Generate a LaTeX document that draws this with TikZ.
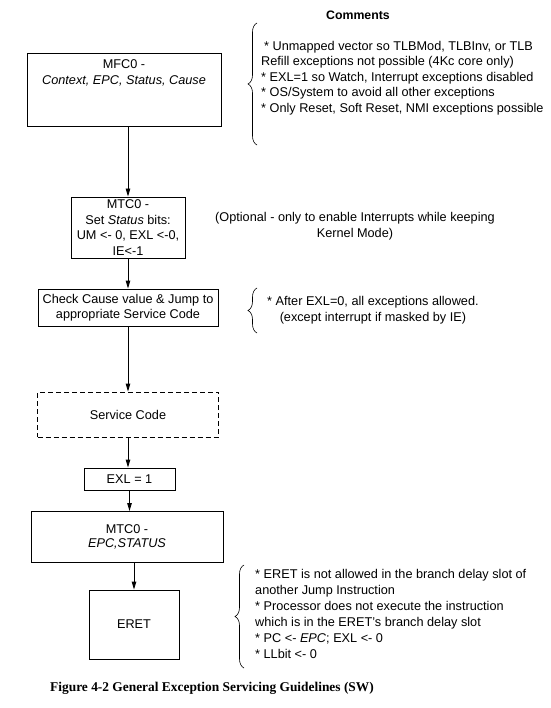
\documentclass[tikz,border=0pt]{standalone}
\usepackage{fontspec}
\setmainfont{Liberation Sans}
\newfontfamily\capfont{Liberation Serif}
\usetikzlibrary{arrows.meta,decorations.pathreplacing}
\begin{document}
\begin{tikzpicture}[x=1pt,y=-1pt,
  box/.style={draw, line width=0.9pt, inner sep=0pt},
  txt/.style={inner sep=0pt, font=\fontsize{12.7}{15.5}\selectfont, align=center},
  arr/.style={-{Triangle[length=8pt,width=4.5pt]}, line width=0.9pt},
  brc/.style={decorate, decoration={brace, amplitude=9pt}, line width=0.6pt}]
\useasboundingbox (0,0) rectangle (550,708);

% boxes
\node[box, minimum width=194pt, minimum height=73pt] (b1) at (124,89.5) {};
\node[txt, font=\fontsize{12.7}{16.5}\selectfont] (t1) at (124,73) {MFC0 -\\\textit{Context, EPC, Status, Cause}};
\node[box, txt, minimum width=114pt, minimum height=61pt] (b2) at (128,227.5)
  {MTC0 -\\Set \textit{Status} bits:\\UM <- 0, EXL <-0,\\IE<-1};
\node[box, txt, minimum width=180pt, minimum height=37pt] (b3) at (128,307.5)
  {Check Cause value \& Jump to\\appropriate Service Code};
\node[box, txt, dash pattern=on 5pt off 3pt, minimum width=181pt, minimum height=45pt] (b4) at (128,414.5)
  {Service Code};
\node[box, txt, minimum width=91pt, minimum height=22pt] (b5) at (129.5,479) {EXL = 1};
\node[box, txt, font=\fontsize{12.7}{13.5}\selectfont, minimum width=192pt, minimum height=51pt] (b6) at (127,537)
  {MTC0 -\\\textit{EPC,STATUS}};
\node[box, txt, minimum width=90pt, minimum height=69pt] (b7) at (134,624.5) {ERET};

% arrows
\draw[arr] (b1.south -| b2.north) -- (b2.north);
\draw[arr] (b2.south) -- (b2.south |- b3.north);
\draw[arr] (b3.south) -- (b3.south |- b4.north);
\draw[arr] (b4.south) -- (b4.south |- b5.north);
\draw[arr] (b5.south) -- (b5.south |- b6.north);
\draw[arr] (b7.north |- b6.south) -- (b7.north);

% comments
\node[font=\bfseries\fontsize{12.3}{14}\selectfont, inner sep=0pt] (ct) at (358,15) {Comments};
\draw[brc] (257,145) -- (257,23);
\node[txt, align=left, anchor=west] (c1) at (261,78)
  {\hspace{3pt}* Unmapped vector so TLBMod, TLBInv, or TLB\\
   Refill exceptions not possible (4Kc core only)\\
   * EXL=1 so Watch, Interrupt exceptions disabled\\
   * OS/System to avoid all other exceptions\\
   * Only Reset, Soft Reset, NMI exceptions possible};

\node[txt] (opt) at (355,226)
  {(Optional - only to enable Interrupts while keeping\\Kernel Mode)};

\draw[brc] (257,333) -- (257,288);
\node[txt, anchor=west] (c2) at (267,310)
  {* After EXL=0, all exceptions allowed.\\(except interrupt if masked by IE)};

\draw[brc] (244,668) -- (244,565);
\node[txt, align=left, anchor=west, font=\fontsize{12.7}{16}\selectfont] (c3) at (255,614)
  {* ERET is not allowed in the branch delay slot of\\
   another Jump Instruction\\
   * Processor does not execute the instruction\\
   which is in the ERET's branch delay slot\\
   * PC <- \textit{EPC}; EXL <- 0\\
   * LLbit <- 0};

\node[font=\capfont\bfseries\fontsize{13.4}{15}\selectfont, anchor=west, inner sep=0pt] (cap) at (50,688)
  {Figure 4-2 General Exception Servicing Guidelines (SW)};
\end{tikzpicture}
\end{document}
